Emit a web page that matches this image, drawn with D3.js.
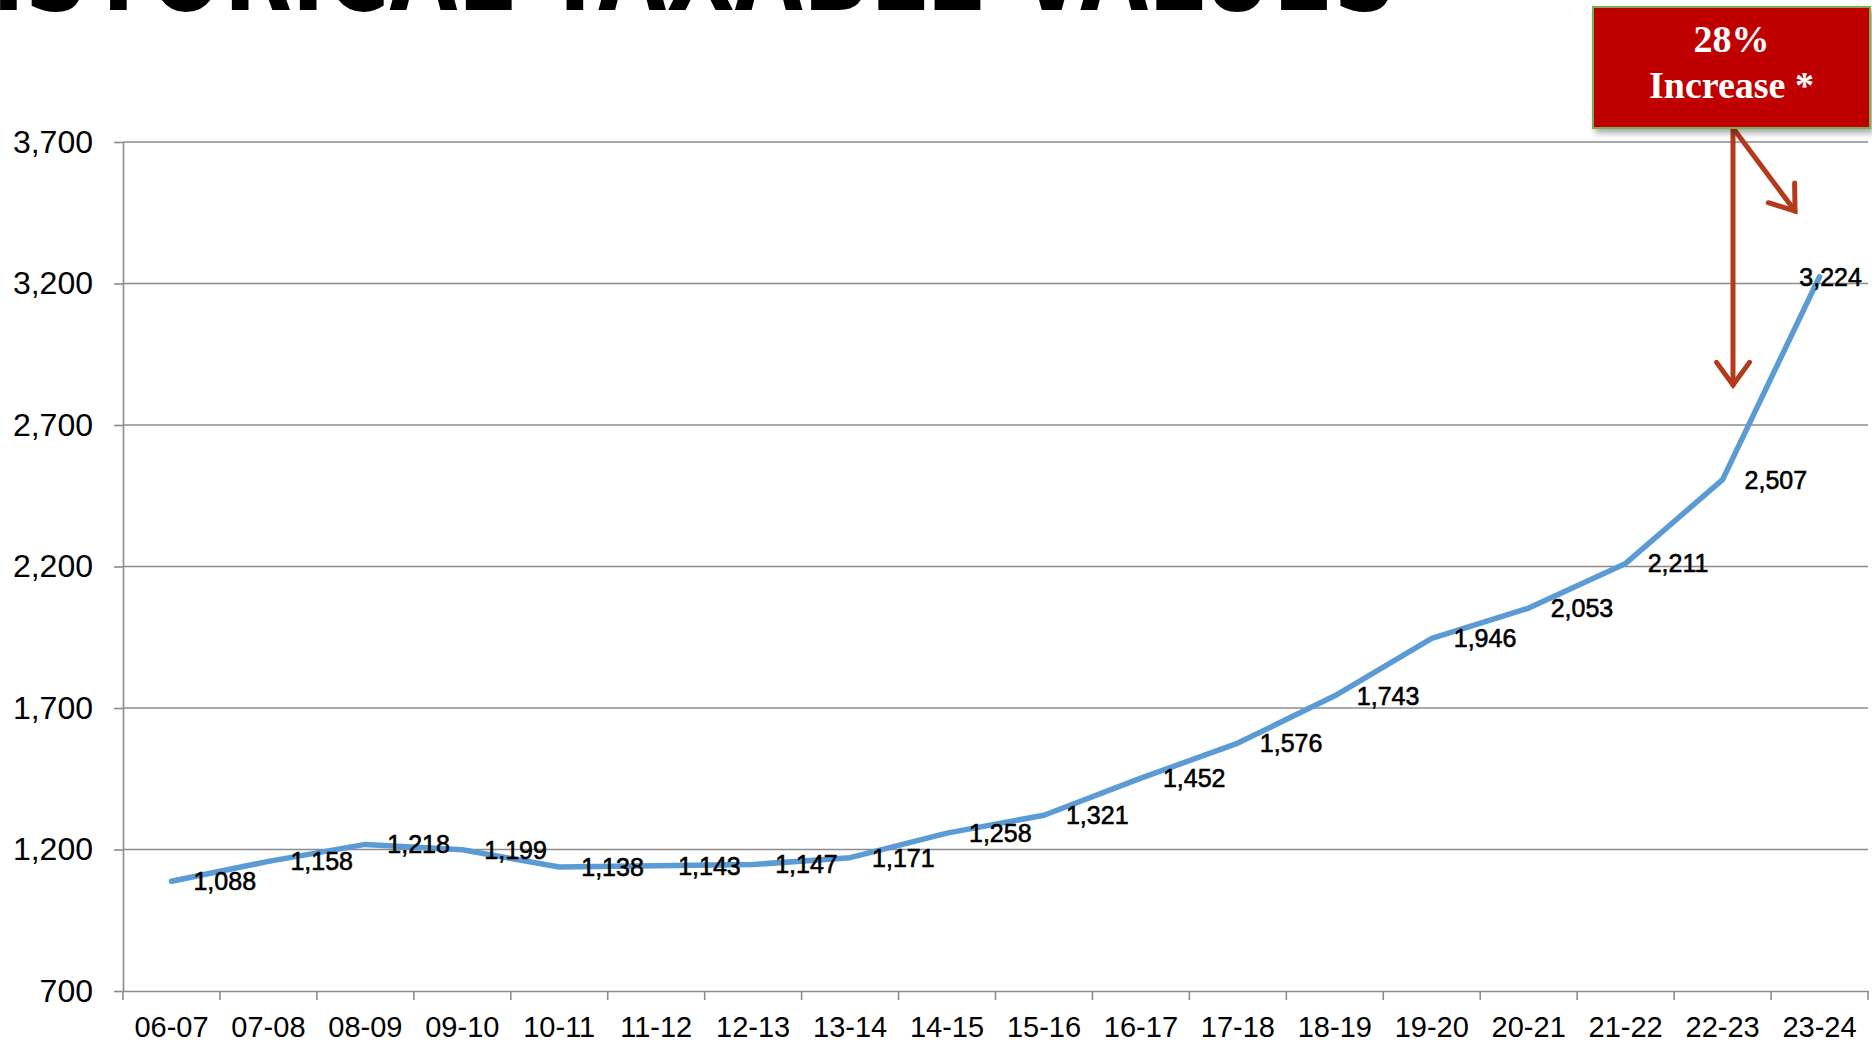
<!DOCTYPE html>
<html>
<head>
<meta charset="utf-8">
<script src="https://cdn.jsdelivr.net/npm/d3@7"></script>
<style>
  html, body { margin: 0; padding: 0; background: #ffffff; overflow: hidden; }
  svg { display: block; }
</style>
</head>
<body>
<svg id="chart" width="1872" height="1045"></svg>
<script>
// ---- data ----
const categories = ["06-07","07-08","08-09","09-10","10-11","11-12","12-13","13-14","14-15","15-16","16-17","17-18","18-19","19-20","20-21","21-22","22-23","23-24"];
const values = [1088,1158,1218,1199,1138,1143,1147,1171,1258,1321,1452,1576,1743,1946,2053,2211,2507,3224];
const yTicks = [700,1200,1700,2200,2700,3200,3700];
const titleText = "HISTORICAL TAXABLE VALUES";
const calloutTop = "28%";
const calloutBottom = "Increase *";

// ---- layout ----
const W = 1872, H = 1045;
const plot = { left: 123, right: 1868, top: 142, bottom: 991 };
const svg = d3.select("#chart");

const x = d3.scaleBand().domain(categories).range([plot.left, plot.right]).padding(0);
const y = d3.scaleLinear().domain([700, 3700]).range([plot.bottom, plot.top]);
const gridColor = "#8c8c8c";

// defs: shadow
const defs = svg.append("defs");
const f = defs.append("filter").attr("id", "shadow").attr("x", "-10%").attr("y", "-10%").attr("width", "130%").attr("height", "140%");
f.append("feDropShadow").attr("dx", 3).attr("dy", 4).attr("stdDeviation", 3).attr("flood-color", "#000").attr("flood-opacity", 0.35);

// title (mostly clipped at top, as in the reference)
svg.append("text")
  .attr("x", -82).attr("y", 10)
  .attr("textLength", 1479).attr("lengthAdjust", "spacingAndGlyphs")
  .style("font-family", "'DejaVu Sans', 'Liberation Sans', sans-serif")
  .style("font-weight", "bold")
  .style("font-size", "120px")
  .attr("fill", "#000")
  .text(titleText);

// gridlines
svg.append("g").selectAll("line")
  .data(yTicks.filter(d => d !== 700))
  .join("line")
  .attr("x1", plot.left).attr("x2", plot.right)
  .attr("y1", d => y(d)).attr("y2", d => y(d))
  .attr("stroke", gridColor).attr("stroke-width", 1.6);

// y axis
const yAxis = svg.append("g")
  .attr("transform", `translate(${plot.left},0)`)
  .call(d3.axisLeft(y).tickValues(yTicks).tickSize(9).tickSizeOuter(0).tickPadding(21).tickFormat(d3.format(",")));
yAxis.select(".domain").attr("stroke", gridColor).attr("stroke-width", 1.6);
yAxis.selectAll(".tick line").attr("stroke", gridColor).attr("stroke-width", 1.6);
yAxis.selectAll(".tick text")
  .style("font-family", "'Liberation Sans', Arial, sans-serif")
  .style("font-size", "32px").attr("fill", "#000");

// x axis (labels at band centers)
const xAxis = svg.append("g")
  .attr("transform", `translate(0,${plot.bottom})`)
  .call(d3.axisBottom(x).tickSize(0).tickSizeOuter(0).tickPadding(25));
xAxis.select(".domain").attr("stroke", gridColor).attr("stroke-width", 1.6);
xAxis.selectAll(".tick text")
  .style("font-family", "'Liberation Sans', Arial, sans-serif")
  .style("font-size", "29px").attr("fill", "#000");

// x boundary ticks
const boundaries = categories.map(c => x(c)).concat([x.range()[1]]);
svg.append("g").selectAll("line")
  .data(boundaries)
  .join("line")
  .attr("x1", d => d).attr("x2", d => d)
  .attr("y1", plot.bottom).attr("y2", plot.bottom + 9)
  .attr("stroke", gridColor).attr("stroke-width", 1.6);

// line
const pts = categories.map((c, i) => ({ c, v: values[i], px: x(c) + x.bandwidth() / 2, py: y(values[i]) }));
svg.append("path")
  .datum(pts)
  .attr("fill", "none")
  .attr("stroke", "#5B9BD5")
  .attr("stroke-width", 5.5)
  .attr("stroke-linejoin", "round")
  .attr("stroke-linecap", "round")
  .attr("d", d3.line().x(d => d.px).y(d => d.py));

// data labels (right of point)
const fmt = d3.format(",");
const labels = svg.append("g").selectAll("text")
  .data(pts)
  .join("text")
  .attr("x", d => d.px + 22)
  .attr("y", d => d.py)
  .attr("dominant-baseline", "central")
  .style("font-family", "'Liberation Sans', Arial, sans-serif")
  .style("font-size", "25px")
  .attr("fill", "#000")
  .attr("stroke", "#000").attr("stroke-width", 0.6)
  .text(d => fmt(d.v));
labels.each(function() {
  const bb = this.getBBox();
  const maxRight = plot.right - 6;
  if (bb.x + bb.width > maxRight) {
    d3.select(this).attr("x", maxRight - bb.width);
  }
});

// arrows
const arrowColor = "#B33A1B";
function arrow(x1, y1, x2, y2) {
  const ang = Math.atan2(y2 - y1, x2 - x1);
  const len = 28, spread = Math.PI / 5;
  const g = svg.append("g").attr("stroke", arrowColor).attr("stroke-width", 5).attr("fill", "none")
    .attr("stroke-linecap", "round").attr("stroke-linejoin", "miter");
  g.append("line").attr("x1", x1).attr("y1", y1).attr("x2", x2).attr("y2", y2);
  g.append("path").attr("d",
    `M${x2 - len * Math.cos(ang - spread)},${y2 - len * Math.sin(ang - spread)} L${x2},${y2} L${x2 - len * Math.cos(ang + spread)},${y2 - len * Math.sin(ang + spread)}`);
}
arrow(1733, 128, 1733, 385);
arrow(1733, 128, 1795, 211);

// callout box
const box = { x: 1593, y: 7, w: 277, h: 121 };
svg.append("rect")
  .attr("x", box.x).attr("y", box.y).attr("width", box.w).attr("height", box.h)
  .attr("fill", "#C00000").attr("stroke", "#79B04D").attr("stroke-width", 2)
  .attr("filter", "url(#shadow)");
const callout = svg.append("text")
  .attr("x", box.x + box.w / 2)
  .attr("y", 52)
  .attr("text-anchor", "middle")
  .style("font-family", "'Liberation Serif', 'DejaVu Serif', serif")
  .style("font-weight", "bold")
  .style("font-size", "38px")
  .attr("fill", "#fff");
callout.append("tspan").attr("x", box.x + box.w / 2).attr("dy", 0).text(calloutTop);
callout.append("tspan").attr("x", box.x + box.w / 2).attr("dy", 46).text(calloutBottom);
</script>
</body>
</html>
